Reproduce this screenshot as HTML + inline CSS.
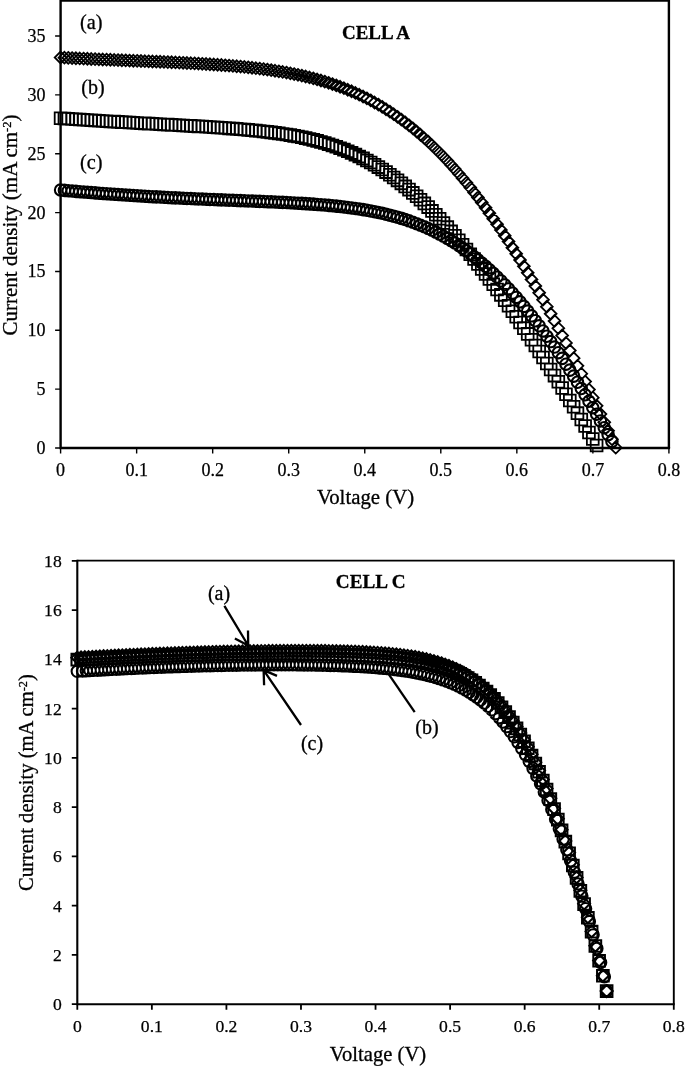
<!DOCTYPE html>
<html><head><meta charset="utf-8"><title>J-V curves</title>
<style>html,body{margin:0;padding:0;background:#fff}body{width:685px;height:1066px;overflow:hidden;font-family:"Liberation Serif",serif}svg{display:block;will-change:transform}.t,.t text{font-family:"Liberation Serif",serif}</style>
</head><body>
<svg width="685" height="1066" viewBox="0 0 685 1066">
<rect width="685" height="1066" fill="#fff"/>
<path fill="none" stroke="#000" stroke-width="1.8" stroke-linejoin="miter" d="M60.6 51.59l5.9 5.9l-5.9 5.9l-5.9 -5.9zM64.43 51.78l5.9 5.9l-5.9 5.9l-5.9 -5.9zM68.26 51.98l5.9 5.9l-5.9 5.9l-5.9 -5.9zM72.09 52.17l5.9 5.9l-5.9 5.9l-5.9 -5.9zM75.91 52.35l5.9 5.9l-5.9 5.9l-5.9 -5.9zM79.74 52.54l5.9 5.9l-5.9 5.9l-5.9 -5.9zM83.57 52.72l5.9 5.9l-5.9 5.9l-5.9 -5.9zM87.4 52.89l5.9 5.9l-5.9 5.9l-5.9 -5.9zM91.23 53.06l5.9 5.9l-5.9 5.9l-5.9 -5.9zM95.06 53.23l5.9 5.9l-5.9 5.9l-5.9 -5.9zM98.89 53.4l5.9 5.9l-5.9 5.9l-5.9 -5.9zM102.71 53.57l5.9 5.9l-5.9 5.9l-5.9 -5.9zM106.54 53.73l5.9 5.9l-5.9 5.9l-5.9 -5.9zM110.37 53.89l5.9 5.9l-5.9 5.9l-5.9 -5.9zM114.2 54.05l5.9 5.9l-5.9 5.9l-5.9 -5.9zM118.03 54.2l5.9 5.9l-5.9 5.9l-5.9 -5.9zM121.86 54.36l5.9 5.9l-5.9 5.9l-5.9 -5.9zM125.69 54.51l5.9 5.9l-5.9 5.9l-5.9 -5.9zM129.52 54.66l5.9 5.9l-5.9 5.9l-5.9 -5.9zM133.34 54.82l5.9 5.9l-5.9 5.9l-5.9 -5.9zM137.17 54.97l5.9 5.9l-5.9 5.9l-5.9 -5.9zM141 55.12l5.9 5.9l-5.9 5.9l-5.9 -5.9zM144.83 55.27l5.9 5.9l-5.9 5.9l-5.9 -5.9zM148.66 55.43l5.9 5.9l-5.9 5.9l-5.9 -5.9zM152.49 55.58l5.9 5.9l-5.9 5.9l-5.9 -5.9zM156.32 55.74l5.9 5.9l-5.9 5.9l-5.9 -5.9zM160.14 55.89l5.9 5.9l-5.9 5.9l-5.9 -5.9zM163.97 56.05l5.9 5.9l-5.9 5.9l-5.9 -5.9zM167.8 56.22l5.9 5.9l-5.9 5.9l-5.9 -5.9zM171.63 56.38l5.9 5.9l-5.9 5.9l-5.9 -5.9zM175.46 56.55l5.9 5.9l-5.9 5.9l-5.9 -5.9zM179.29 56.73l5.9 5.9l-5.9 5.9l-5.9 -5.9zM183.12 56.91l5.9 5.9l-5.9 5.9l-5.9 -5.9zM186.94 57.09l5.9 5.9l-5.9 5.9l-5.9 -5.9zM190.77 57.29l5.9 5.9l-5.9 5.9l-5.9 -5.9zM194.6 57.48l5.9 5.9l-5.9 5.9l-5.9 -5.9zM198.43 57.69l5.9 5.9l-5.9 5.9l-5.9 -5.9zM202.26 57.9l5.9 5.9l-5.9 5.9l-5.9 -5.9zM206.09 58.13l5.9 5.9l-5.9 5.9l-5.9 -5.9zM209.92 58.36l5.9 5.9l-5.9 5.9l-5.9 -5.9zM213.74 58.6l5.9 5.9l-5.9 5.9l-5.9 -5.9zM217.57 58.86l5.9 5.9l-5.9 5.9l-5.9 -5.9zM221.4 59.13l5.9 5.9l-5.9 5.9l-5.9 -5.9zM225.23 59.41l5.9 5.9l-5.9 5.9l-5.9 -5.9zM229.06 59.7l5.9 5.9l-5.9 5.9l-5.9 -5.9zM232.89 60.02l5.9 5.9l-5.9 5.9l-5.9 -5.9zM236.72 60.34l5.9 5.9l-5.9 5.9l-5.9 -5.9zM240.54 60.69l5.9 5.9l-5.9 5.9l-5.9 -5.9zM244.37 61.05l5.9 5.9l-5.9 5.9l-5.9 -5.9zM248.2 61.44l5.9 5.9l-5.9 5.9l-5.9 -5.9zM252.03 61.84l5.9 5.9l-5.9 5.9l-5.9 -5.9zM255.86 62.27l5.9 5.9l-5.9 5.9l-5.9 -5.9zM259.69 62.73l5.9 5.9l-5.9 5.9l-5.9 -5.9zM263.52 63.2l5.9 5.9l-5.9 5.9l-5.9 -5.9zM267.35 63.71l5.9 5.9l-5.9 5.9l-5.9 -5.9zM271.17 64.24l5.9 5.9l-5.9 5.9l-5.9 -5.9zM275 64.81l5.9 5.9l-5.9 5.9l-5.9 -5.9zM278.83 65.41l5.9 5.9l-5.9 5.9l-5.9 -5.9zM282.66 66.04l5.9 5.9l-5.9 5.9l-5.9 -5.9zM286.49 66.7l5.9 5.9l-5.9 5.9l-5.9 -5.9zM290.32 67.4l5.9 5.9l-5.9 5.9l-5.9 -5.9zM294.15 68.15l5.9 5.9l-5.9 5.9l-5.9 -5.9zM297.97 68.93l5.9 5.9l-5.9 5.9l-5.9 -5.9zM301.8 69.76l5.9 5.9l-5.9 5.9l-5.9 -5.9zM305.63 70.63l5.9 5.9l-5.9 5.9l-5.9 -5.9zM309.46 71.54l5.9 5.9l-5.9 5.9l-5.9 -5.9zM313.29 72.51l5.9 5.9l-5.9 5.9l-5.9 -5.9zM317.12 73.53l5.9 5.9l-5.9 5.9l-5.9 -5.9zM320.95 74.6l5.9 5.9l-5.9 5.9l-5.9 -5.9zM324.77 75.73l5.9 5.9l-5.9 5.9l-5.9 -5.9zM328.6 76.92l5.9 5.9l-5.9 5.9l-5.9 -5.9zM332.43 78.17l5.9 5.9l-5.9 5.9l-5.9 -5.9zM336.26 79.48l5.9 5.9l-5.9 5.9l-5.9 -5.9zM340.09 80.85l5.9 5.9l-5.9 5.9l-5.9 -5.9zM343.92 82.29l5.9 5.9l-5.9 5.9l-5.9 -5.9zM347.75 83.81l5.9 5.9l-5.9 5.9l-5.9 -5.9zM351.57 85.39l5.9 5.9l-5.9 5.9l-5.9 -5.9zM355.4 87.05l5.9 5.9l-5.9 5.9l-5.9 -5.9zM359.23 88.79l5.9 5.9l-5.9 5.9l-5.9 -5.9zM363.06 90.61l5.9 5.9l-5.9 5.9l-5.9 -5.9zM366.89 92.51l5.9 5.9l-5.9 5.9l-5.9 -5.9zM370.72 94.49l5.9 5.9l-5.9 5.9l-5.9 -5.9zM374.55 96.56l5.9 5.9l-5.9 5.9l-5.9 -5.9zM378.37 98.71l5.9 5.9l-5.9 5.9l-5.9 -5.9zM382.2 100.96l5.9 5.9l-5.9 5.9l-5.9 -5.9zM386.03 103.31l5.9 5.9l-5.9 5.9l-5.9 -5.9zM389.86 105.74l5.9 5.9l-5.9 5.9l-5.9 -5.9zM393.69 108.28l5.9 5.9l-5.9 5.9l-5.9 -5.9zM397.52 110.91l5.9 5.9l-5.9 5.9l-5.9 -5.9zM401.35 113.65l5.9 5.9l-5.9 5.9l-5.9 -5.9zM405.18 116.48l5.9 5.9l-5.9 5.9l-5.9 -5.9zM409 119.42l5.9 5.9l-5.9 5.9l-5.9 -5.9zM412.83 122.47l5.9 5.9l-5.9 5.9l-5.9 -5.9zM416.66 125.63l5.9 5.9l-5.9 5.9l-5.9 -5.9zM420.49 128.89l5.9 5.9l-5.9 5.9l-5.9 -5.9zM424.32 132.27l5.9 5.9l-5.9 5.9l-5.9 -5.9zM428.15 135.76l5.9 5.9l-5.9 5.9l-5.9 -5.9zM431.98 139.36l5.9 5.9l-5.9 5.9l-5.9 -5.9zM435.8 143.07l5.9 5.9l-5.9 5.9l-5.9 -5.9zM439.63 146.9l5.9 5.9l-5.9 5.9l-5.9 -5.9zM443.46 150.84l5.9 5.9l-5.9 5.9l-5.9 -5.9zM447.29 154.9l5.9 5.9l-5.9 5.9l-5.9 -5.9zM451.12 159.08l5.9 5.9l-5.9 5.9l-5.9 -5.9zM454.95 163.37l5.9 5.9l-5.9 5.9l-5.9 -5.9zM458.78 167.78l5.9 5.9l-5.9 5.9l-5.9 -5.9zM462.6 172.31l5.9 5.9l-5.9 5.9l-5.9 -5.9zM466.43 176.95l5.9 5.9l-5.9 5.9l-5.9 -5.9zM470.26 181.72l5.9 5.9l-5.9 5.9l-5.9 -5.9zM474.09 186.6l5.9 5.9l-5.9 5.9l-5.9 -5.9zM477.92 191.59l5.9 5.9l-5.9 5.9l-5.9 -5.9zM481.75 196.71l5.9 5.9l-5.9 5.9l-5.9 -5.9zM485.58 201.94l5.9 5.9l-5.9 5.9l-5.9 -5.9zM489.4 207.28l5.9 5.9l-5.9 5.9l-5.9 -5.9zM493.23 212.74l5.9 5.9l-5.9 5.9l-5.9 -5.9zM497.06 218.32l5.9 5.9l-5.9 5.9l-5.9 -5.9zM500.89 224l5.9 5.9l-5.9 5.9l-5.9 -5.9zM504.72 229.81l5.9 5.9l-5.9 5.9l-5.9 -5.9zM508.55 235.72l5.9 5.9l-5.9 5.9l-5.9 -5.9zM512.38 241.74l5.9 5.9l-5.9 5.9l-5.9 -5.9zM516.21 247.88l5.9 5.9l-5.9 5.9l-5.9 -5.9zM520.03 254.12l5.9 5.9l-5.9 5.9l-5.9 -5.9zM523.86 260.47l5.9 5.9l-5.9 5.9l-5.9 -5.9zM527.69 266.93l5.9 5.9l-5.9 5.9l-5.9 -5.9zM531.52 273.49l5.9 5.9l-5.9 5.9l-5.9 -5.9zM535.35 280.16l5.9 5.9l-5.9 5.9l-5.9 -5.9zM539.18 286.92l5.9 5.9l-5.9 5.9l-5.9 -5.9zM543.01 293.8l5.9 5.9l-5.9 5.9l-5.9 -5.9zM546.83 300.77l5.9 5.9l-5.9 5.9l-5.9 -5.9zM550.66 307.84l5.9 5.9l-5.9 5.9l-5.9 -5.9zM554.49 315l5.9 5.9l-5.9 5.9l-5.9 -5.9zM558.32 322.27l5.9 5.9l-5.9 5.9l-5.9 -5.9zM562.15 329.62l5.9 5.9l-5.9 5.9l-5.9 -5.9zM565.98 337.08l5.9 5.9l-5.9 5.9l-5.9 -5.9zM569.81 344.62l5.9 5.9l-5.9 5.9l-5.9 -5.9zM573.63 352.25l5.9 5.9l-5.9 5.9l-5.9 -5.9zM577.46 359.97l5.9 5.9l-5.9 5.9l-5.9 -5.9zM581.29 367.78l5.9 5.9l-5.9 5.9l-5.9 -5.9zM585.12 375.68l5.9 5.9l-5.9 5.9l-5.9 -5.9zM588.95 383.66l5.9 5.9l-5.9 5.9l-5.9 -5.9zM592.78 391.73l5.9 5.9l-5.9 5.9l-5.9 -5.9zM596.61 399.87l5.9 5.9l-5.9 5.9l-5.9 -5.9zM600.43 408.1l5.9 5.9l-5.9 5.9l-5.9 -5.9zM604.26 416.4l5.9 5.9l-5.9 5.9l-5.9 -5.9zM608.09 424.79l5.9 5.9l-5.9 5.9l-5.9 -5.9zM611.92 433.25l5.9 5.9l-5.9 5.9l-5.9 -5.9zM615.75 441.79l5.9 5.9l-5.9 5.9l-5.9 -5.9z"/>
<path fill="none" stroke="#000" stroke-width="1.8" stroke-linejoin="miter" d="M54.7 112.38h11.8v11.8h-11.8zM58.53 112.64h11.8v11.8h-11.8zM62.36 112.9h11.8v11.8h-11.8zM66.19 113.15h11.8v11.8h-11.8zM70.01 113.4h11.8v11.8h-11.8zM73.84 113.65h11.8v11.8h-11.8zM77.67 113.89h11.8v11.8h-11.8zM81.5 114.14h11.8v11.8h-11.8zM85.33 114.38h11.8v11.8h-11.8zM89.16 114.61h11.8v11.8h-11.8zM92.99 114.85h11.8v11.8h-11.8zM96.81 115.08h11.8v11.8h-11.8zM100.64 115.31h11.8v11.8h-11.8zM104.47 115.54h11.8v11.8h-11.8zM108.3 115.76h11.8v11.8h-11.8zM112.13 115.98h11.8v11.8h-11.8zM115.96 116.2h11.8v11.8h-11.8zM119.79 116.42h11.8v11.8h-11.8zM123.62 116.64h11.8v11.8h-11.8zM127.44 116.85h11.8v11.8h-11.8zM131.27 117.07h11.8v11.8h-11.8zM135.1 117.28h11.8v11.8h-11.8zM138.93 117.49h11.8v11.8h-11.8zM142.76 117.7h11.8v11.8h-11.8zM146.59 117.91h11.8v11.8h-11.8zM150.42 118.11h11.8v11.8h-11.8zM154.24 118.32h11.8v11.8h-11.8zM158.07 118.53h11.8v11.8h-11.8zM161.9 118.74h11.8v11.8h-11.8zM165.73 118.95h11.8v11.8h-11.8zM169.56 119.15h11.8v11.8h-11.8zM173.39 119.36h11.8v11.8h-11.8zM177.22 119.58h11.8v11.8h-11.8zM181.04 119.79h11.8v11.8h-11.8zM184.87 120.01h11.8v11.8h-11.8zM188.7 120.22h11.8v11.8h-11.8zM192.53 120.45h11.8v11.8h-11.8zM196.36 120.67h11.8v11.8h-11.8zM200.19 120.9h11.8v11.8h-11.8zM204.02 121.14h11.8v11.8h-11.8zM207.84 121.38h11.8v11.8h-11.8zM211.67 121.63h11.8v11.8h-11.8zM215.5 121.89h11.8v11.8h-11.8zM219.33 122.15h11.8v11.8h-11.8zM223.16 122.43h11.8v11.8h-11.8zM226.99 122.72h11.8v11.8h-11.8zM230.82 123.01h11.8v11.8h-11.8zM234.64 123.32h11.8v11.8h-11.8zM238.47 123.65h11.8v11.8h-11.8zM242.3 123.99h11.8v11.8h-11.8zM246.13 124.35h11.8v11.8h-11.8zM249.96 124.72h11.8v11.8h-11.8zM253.79 125.12h11.8v11.8h-11.8zM257.62 125.54h11.8v11.8h-11.8zM261.45 125.98h11.8v11.8h-11.8zM265.27 126.45h11.8v11.8h-11.8zM269.1 126.95h11.8v11.8h-11.8zM272.93 127.47h11.8v11.8h-11.8zM276.76 128.03h11.8v11.8h-11.8zM280.59 128.63h11.8v11.8h-11.8zM284.42 129.26h11.8v11.8h-11.8zM288.25 129.94h11.8v11.8h-11.8zM292.07 130.65h11.8v11.8h-11.8zM295.9 131.42h11.8v11.8h-11.8zM299.73 132.23h11.8v11.8h-11.8zM303.56 133.1h11.8v11.8h-11.8zM307.39 134.02h11.8v11.8h-11.8zM311.22 135h11.8v11.8h-11.8zM315.05 136.04h11.8v11.8h-11.8zM318.87 137.14h11.8v11.8h-11.8zM322.7 138.32h11.8v11.8h-11.8zM326.53 139.57h11.8v11.8h-11.8zM330.36 140.89h11.8v11.8h-11.8zM334.19 142.29h11.8v11.8h-11.8zM338.02 143.77h11.8v11.8h-11.8zM341.85 145.33h11.8v11.8h-11.8zM345.67 146.99h11.8v11.8h-11.8zM349.5 148.73h11.8v11.8h-11.8zM353.33 150.57h11.8v11.8h-11.8zM357.16 152.5h11.8v11.8h-11.8zM360.99 154.53h11.8v11.8h-11.8zM364.82 156.65h11.8v11.8h-11.8zM368.65 158.88h11.8v11.8h-11.8zM372.47 161.21h11.8v11.8h-11.8zM376.3 163.65h11.8v11.8h-11.8zM380.13 166.19h11.8v11.8h-11.8zM383.96 168.84h11.8v11.8h-11.8zM387.79 171.6h11.8v11.8h-11.8zM391.62 174.46h11.8v11.8h-11.8zM395.45 177.43h11.8v11.8h-11.8zM399.28 180.51h11.8v11.8h-11.8zM403.1 183.69h11.8v11.8h-11.8zM406.93 186.98h11.8v11.8h-11.8zM410.76 190.38h11.8v11.8h-11.8zM414.59 193.88h11.8v11.8h-11.8zM418.42 197.49h11.8v11.8h-11.8zM422.25 201.19h11.8v11.8h-11.8zM426.08 205h11.8v11.8h-11.8zM429.9 208.91h11.8v11.8h-11.8zM433.73 212.92h11.8v11.8h-11.8zM437.56 217.03h11.8v11.8h-11.8zM441.39 221.23h11.8v11.8h-11.8zM445.22 225.52h11.8v11.8h-11.8zM449.05 229.91h11.8v11.8h-11.8zM452.88 234.38h11.8v11.8h-11.8zM456.7 238.94h11.8v11.8h-11.8zM460.53 243.59h11.8v11.8h-11.8zM464.36 248.32h11.8v11.8h-11.8zM468.19 253.13h11.8v11.8h-11.8zM472.02 258.02h11.8v11.8h-11.8zM475.85 262.99h11.8v11.8h-11.8zM479.68 268.04h11.8v11.8h-11.8zM483.5 273.15h11.8v11.8h-11.8zM487.33 278.34h11.8v11.8h-11.8zM491.16 283.6h11.8v11.8h-11.8zM494.99 288.93h11.8v11.8h-11.8zM498.82 294.32h11.8v11.8h-11.8zM502.65 299.78h11.8v11.8h-11.8zM506.48 305.3h11.8v11.8h-11.8zM510.31 310.89h11.8v11.8h-11.8zM514.13 316.53h11.8v11.8h-11.8zM517.96 322.23h11.8v11.8h-11.8zM521.79 327.98h11.8v11.8h-11.8zM525.62 333.79h11.8v11.8h-11.8zM529.45 339.65h11.8v11.8h-11.8zM533.28 345.56h11.8v11.8h-11.8zM537.11 351.53h11.8v11.8h-11.8zM540.93 357.54h11.8v11.8h-11.8zM544.76 363.6h11.8v11.8h-11.8zM548.59 369.71h11.8v11.8h-11.8zM552.42 375.86h11.8v11.8h-11.8zM556.25 382.05h11.8v11.8h-11.8zM560.08 388.29h11.8v11.8h-11.8zM563.91 394.57h11.8v11.8h-11.8zM567.73 400.89h11.8v11.8h-11.8zM571.56 407.24h11.8v11.8h-11.8zM575.39 413.64h11.8v11.8h-11.8zM579.22 420.07h11.8v11.8h-11.8zM583.05 426.54h11.8v11.8h-11.8zM586.88 433.04h11.8v11.8h-11.8zM590.71 439.58h11.8v11.8h-11.8z"/>
<path fill="none" stroke="#000" stroke-width="2.1" stroke-linejoin="miter" d="M54.88 190.05a5.72 5.72 0 1 0 11.44 0a5.72 5.72 0 1 0 -11.44 0zM58.71 190.39a5.72 5.72 0 1 0 11.44 0a5.72 5.72 0 1 0 -11.44 0zM62.54 190.72a5.72 5.72 0 1 0 11.44 0a5.72 5.72 0 1 0 -11.44 0zM66.37 191.05a5.72 5.72 0 1 0 11.44 0a5.72 5.72 0 1 0 -11.44 0zM70.19 191.37a5.72 5.72 0 1 0 11.44 0a5.72 5.72 0 1 0 -11.44 0zM74.02 191.68a5.72 5.72 0 1 0 11.44 0a5.72 5.72 0 1 0 -11.44 0zM77.85 191.99a5.72 5.72 0 1 0 11.44 0a5.72 5.72 0 1 0 -11.44 0zM81.68 192.3a5.72 5.72 0 1 0 11.44 0a5.72 5.72 0 1 0 -11.44 0zM85.51 192.6a5.72 5.72 0 1 0 11.44 0a5.72 5.72 0 1 0 -11.44 0zM89.34 192.89a5.72 5.72 0 1 0 11.44 0a5.72 5.72 0 1 0 -11.44 0zM93.17 193.18a5.72 5.72 0 1 0 11.44 0a5.72 5.72 0 1 0 -11.44 0zM96.99 193.46a5.72 5.72 0 1 0 11.44 0a5.72 5.72 0 1 0 -11.44 0zM100.82 193.74a5.72 5.72 0 1 0 11.44 0a5.72 5.72 0 1 0 -11.44 0zM104.65 194.01a5.72 5.72 0 1 0 11.44 0a5.72 5.72 0 1 0 -11.44 0zM108.48 194.28a5.72 5.72 0 1 0 11.44 0a5.72 5.72 0 1 0 -11.44 0zM112.31 194.54a5.72 5.72 0 1 0 11.44 0a5.72 5.72 0 1 0 -11.44 0zM116.14 194.8a5.72 5.72 0 1 0 11.44 0a5.72 5.72 0 1 0 -11.44 0zM119.97 195.05a5.72 5.72 0 1 0 11.44 0a5.72 5.72 0 1 0 -11.44 0zM123.8 195.29a5.72 5.72 0 1 0 11.44 0a5.72 5.72 0 1 0 -11.44 0zM127.62 195.53a5.72 5.72 0 1 0 11.44 0a5.72 5.72 0 1 0 -11.44 0zM131.45 195.77a5.72 5.72 0 1 0 11.44 0a5.72 5.72 0 1 0 -11.44 0zM135.28 196a5.72 5.72 0 1 0 11.44 0a5.72 5.72 0 1 0 -11.44 0zM139.11 196.23a5.72 5.72 0 1 0 11.44 0a5.72 5.72 0 1 0 -11.44 0zM142.94 196.45a5.72 5.72 0 1 0 11.44 0a5.72 5.72 0 1 0 -11.44 0zM146.77 196.66a5.72 5.72 0 1 0 11.44 0a5.72 5.72 0 1 0 -11.44 0zM150.6 196.87a5.72 5.72 0 1 0 11.44 0a5.72 5.72 0 1 0 -11.44 0zM154.42 197.08a5.72 5.72 0 1 0 11.44 0a5.72 5.72 0 1 0 -11.44 0zM158.25 197.28a5.72 5.72 0 1 0 11.44 0a5.72 5.72 0 1 0 -11.44 0zM162.08 197.48a5.72 5.72 0 1 0 11.44 0a5.72 5.72 0 1 0 -11.44 0zM165.91 197.67a5.72 5.72 0 1 0 11.44 0a5.72 5.72 0 1 0 -11.44 0zM169.74 197.86a5.72 5.72 0 1 0 11.44 0a5.72 5.72 0 1 0 -11.44 0zM173.57 198.05a5.72 5.72 0 1 0 11.44 0a5.72 5.72 0 1 0 -11.44 0zM177.4 198.23a5.72 5.72 0 1 0 11.44 0a5.72 5.72 0 1 0 -11.44 0zM181.22 198.41a5.72 5.72 0 1 0 11.44 0a5.72 5.72 0 1 0 -11.44 0zM185.05 198.58a5.72 5.72 0 1 0 11.44 0a5.72 5.72 0 1 0 -11.44 0zM188.88 198.75a5.72 5.72 0 1 0 11.44 0a5.72 5.72 0 1 0 -11.44 0zM192.71 198.92a5.72 5.72 0 1 0 11.44 0a5.72 5.72 0 1 0 -11.44 0zM196.54 199.08a5.72 5.72 0 1 0 11.44 0a5.72 5.72 0 1 0 -11.44 0zM200.37 199.24a5.72 5.72 0 1 0 11.44 0a5.72 5.72 0 1 0 -11.44 0zM204.2 199.4a5.72 5.72 0 1 0 11.44 0a5.72 5.72 0 1 0 -11.44 0zM208.02 199.56a5.72 5.72 0 1 0 11.44 0a5.72 5.72 0 1 0 -11.44 0zM211.85 199.71a5.72 5.72 0 1 0 11.44 0a5.72 5.72 0 1 0 -11.44 0zM215.68 199.86a5.72 5.72 0 1 0 11.44 0a5.72 5.72 0 1 0 -11.44 0zM219.51 200.01a5.72 5.72 0 1 0 11.44 0a5.72 5.72 0 1 0 -11.44 0zM223.34 200.16a5.72 5.72 0 1 0 11.44 0a5.72 5.72 0 1 0 -11.44 0zM227.17 200.31a5.72 5.72 0 1 0 11.44 0a5.72 5.72 0 1 0 -11.44 0zM231 200.46a5.72 5.72 0 1 0 11.44 0a5.72 5.72 0 1 0 -11.44 0zM234.82 200.61a5.72 5.72 0 1 0 11.44 0a5.72 5.72 0 1 0 -11.44 0zM238.65 200.76a5.72 5.72 0 1 0 11.44 0a5.72 5.72 0 1 0 -11.44 0zM242.48 200.9a5.72 5.72 0 1 0 11.44 0a5.72 5.72 0 1 0 -11.44 0zM246.31 201.05a5.72 5.72 0 1 0 11.44 0a5.72 5.72 0 1 0 -11.44 0zM250.14 201.2a5.72 5.72 0 1 0 11.44 0a5.72 5.72 0 1 0 -11.44 0zM253.97 201.36a5.72 5.72 0 1 0 11.44 0a5.72 5.72 0 1 0 -11.44 0zM257.8 201.51a5.72 5.72 0 1 0 11.44 0a5.72 5.72 0 1 0 -11.44 0zM261.63 201.67a5.72 5.72 0 1 0 11.44 0a5.72 5.72 0 1 0 -11.44 0zM265.45 201.84a5.72 5.72 0 1 0 11.44 0a5.72 5.72 0 1 0 -11.44 0zM269.28 202.01a5.72 5.72 0 1 0 11.44 0a5.72 5.72 0 1 0 -11.44 0zM273.11 202.18a5.72 5.72 0 1 0 11.44 0a5.72 5.72 0 1 0 -11.44 0zM276.94 202.36a5.72 5.72 0 1 0 11.44 0a5.72 5.72 0 1 0 -11.44 0zM280.77 202.55a5.72 5.72 0 1 0 11.44 0a5.72 5.72 0 1 0 -11.44 0zM284.6 202.74a5.72 5.72 0 1 0 11.44 0a5.72 5.72 0 1 0 -11.44 0zM288.43 202.94a5.72 5.72 0 1 0 11.44 0a5.72 5.72 0 1 0 -11.44 0zM292.25 203.16a5.72 5.72 0 1 0 11.44 0a5.72 5.72 0 1 0 -11.44 0zM296.08 203.38a5.72 5.72 0 1 0 11.44 0a5.72 5.72 0 1 0 -11.44 0zM299.91 203.62a5.72 5.72 0 1 0 11.44 0a5.72 5.72 0 1 0 -11.44 0zM303.74 203.87a5.72 5.72 0 1 0 11.44 0a5.72 5.72 0 1 0 -11.44 0zM307.57 204.14a5.72 5.72 0 1 0 11.44 0a5.72 5.72 0 1 0 -11.44 0zM311.4 204.42a5.72 5.72 0 1 0 11.44 0a5.72 5.72 0 1 0 -11.44 0zM315.23 204.71a5.72 5.72 0 1 0 11.44 0a5.72 5.72 0 1 0 -11.44 0zM319.05 205.03a5.72 5.72 0 1 0 11.44 0a5.72 5.72 0 1 0 -11.44 0zM322.88 205.37a5.72 5.72 0 1 0 11.44 0a5.72 5.72 0 1 0 -11.44 0zM326.71 205.73a5.72 5.72 0 1 0 11.44 0a5.72 5.72 0 1 0 -11.44 0zM330.54 206.11a5.72 5.72 0 1 0 11.44 0a5.72 5.72 0 1 0 -11.44 0zM334.37 206.52a5.72 5.72 0 1 0 11.44 0a5.72 5.72 0 1 0 -11.44 0zM338.2 206.95a5.72 5.72 0 1 0 11.44 0a5.72 5.72 0 1 0 -11.44 0zM342.03 207.42a5.72 5.72 0 1 0 11.44 0a5.72 5.72 0 1 0 -11.44 0zM345.85 207.92a5.72 5.72 0 1 0 11.44 0a5.72 5.72 0 1 0 -11.44 0zM349.68 208.45a5.72 5.72 0 1 0 11.44 0a5.72 5.72 0 1 0 -11.44 0zM353.51 209.01a5.72 5.72 0 1 0 11.44 0a5.72 5.72 0 1 0 -11.44 0zM357.34 209.62a5.72 5.72 0 1 0 11.44 0a5.72 5.72 0 1 0 -11.44 0zM361.17 210.26a5.72 5.72 0 1 0 11.44 0a5.72 5.72 0 1 0 -11.44 0zM365 210.95a5.72 5.72 0 1 0 11.44 0a5.72 5.72 0 1 0 -11.44 0zM368.83 211.69a5.72 5.72 0 1 0 11.44 0a5.72 5.72 0 1 0 -11.44 0zM372.65 212.47a5.72 5.72 0 1 0 11.44 0a5.72 5.72 0 1 0 -11.44 0zM376.48 213.31a5.72 5.72 0 1 0 11.44 0a5.72 5.72 0 1 0 -11.44 0zM380.31 214.2a5.72 5.72 0 1 0 11.44 0a5.72 5.72 0 1 0 -11.44 0zM384.14 215.15a5.72 5.72 0 1 0 11.44 0a5.72 5.72 0 1 0 -11.44 0zM387.97 216.16a5.72 5.72 0 1 0 11.44 0a5.72 5.72 0 1 0 -11.44 0zM391.8 217.23a5.72 5.72 0 1 0 11.44 0a5.72 5.72 0 1 0 -11.44 0zM395.63 218.37a5.72 5.72 0 1 0 11.44 0a5.72 5.72 0 1 0 -11.44 0zM399.46 219.57a5.72 5.72 0 1 0 11.44 0a5.72 5.72 0 1 0 -11.44 0zM403.28 220.85a5.72 5.72 0 1 0 11.44 0a5.72 5.72 0 1 0 -11.44 0zM407.11 222.21a5.72 5.72 0 1 0 11.44 0a5.72 5.72 0 1 0 -11.44 0zM410.94 223.65a5.72 5.72 0 1 0 11.44 0a5.72 5.72 0 1 0 -11.44 0zM414.77 225.17a5.72 5.72 0 1 0 11.44 0a5.72 5.72 0 1 0 -11.44 0zM418.6 226.77a5.72 5.72 0 1 0 11.44 0a5.72 5.72 0 1 0 -11.44 0zM422.43 228.46a5.72 5.72 0 1 0 11.44 0a5.72 5.72 0 1 0 -11.44 0zM426.26 230.25a5.72 5.72 0 1 0 11.44 0a5.72 5.72 0 1 0 -11.44 0zM430.08 232.13a5.72 5.72 0 1 0 11.44 0a5.72 5.72 0 1 0 -11.44 0zM433.91 234.11a5.72 5.72 0 1 0 11.44 0a5.72 5.72 0 1 0 -11.44 0zM437.74 236.18a5.72 5.72 0 1 0 11.44 0a5.72 5.72 0 1 0 -11.44 0zM441.57 238.36a5.72 5.72 0 1 0 11.44 0a5.72 5.72 0 1 0 -11.44 0zM445.4 240.65a5.72 5.72 0 1 0 11.44 0a5.72 5.72 0 1 0 -11.44 0zM449.23 243.04a5.72 5.72 0 1 0 11.44 0a5.72 5.72 0 1 0 -11.44 0zM453.06 245.55a5.72 5.72 0 1 0 11.44 0a5.72 5.72 0 1 0 -11.44 0zM456.88 248.17a5.72 5.72 0 1 0 11.44 0a5.72 5.72 0 1 0 -11.44 0zM460.71 250.9a5.72 5.72 0 1 0 11.44 0a5.72 5.72 0 1 0 -11.44 0zM464.54 253.75a5.72 5.72 0 1 0 11.44 0a5.72 5.72 0 1 0 -11.44 0zM468.37 256.71a5.72 5.72 0 1 0 11.44 0a5.72 5.72 0 1 0 -11.44 0zM472.2 259.8a5.72 5.72 0 1 0 11.44 0a5.72 5.72 0 1 0 -11.44 0zM476.03 263a5.72 5.72 0 1 0 11.44 0a5.72 5.72 0 1 0 -11.44 0zM479.86 266.33a5.72 5.72 0 1 0 11.44 0a5.72 5.72 0 1 0 -11.44 0zM483.68 269.78a5.72 5.72 0 1 0 11.44 0a5.72 5.72 0 1 0 -11.44 0zM487.51 273.35a5.72 5.72 0 1 0 11.44 0a5.72 5.72 0 1 0 -11.44 0zM491.34 277.05a5.72 5.72 0 1 0 11.44 0a5.72 5.72 0 1 0 -11.44 0zM495.17 280.87a5.72 5.72 0 1 0 11.44 0a5.72 5.72 0 1 0 -11.44 0zM499 284.81a5.72 5.72 0 1 0 11.44 0a5.72 5.72 0 1 0 -11.44 0zM502.83 288.88a5.72 5.72 0 1 0 11.44 0a5.72 5.72 0 1 0 -11.44 0zM506.66 293.07a5.72 5.72 0 1 0 11.44 0a5.72 5.72 0 1 0 -11.44 0zM510.49 297.38a5.72 5.72 0 1 0 11.44 0a5.72 5.72 0 1 0 -11.44 0zM514.31 301.82a5.72 5.72 0 1 0 11.44 0a5.72 5.72 0 1 0 -11.44 0zM518.14 306.37a5.72 5.72 0 1 0 11.44 0a5.72 5.72 0 1 0 -11.44 0zM521.97 311.05a5.72 5.72 0 1 0 11.44 0a5.72 5.72 0 1 0 -11.44 0zM525.8 315.85a5.72 5.72 0 1 0 11.44 0a5.72 5.72 0 1 0 -11.44 0zM529.63 320.77a5.72 5.72 0 1 0 11.44 0a5.72 5.72 0 1 0 -11.44 0zM533.46 325.8a5.72 5.72 0 1 0 11.44 0a5.72 5.72 0 1 0 -11.44 0zM537.29 330.95a5.72 5.72 0 1 0 11.44 0a5.72 5.72 0 1 0 -11.44 0zM541.11 336.21a5.72 5.72 0 1 0 11.44 0a5.72 5.72 0 1 0 -11.44 0zM544.94 341.59a5.72 5.72 0 1 0 11.44 0a5.72 5.72 0 1 0 -11.44 0zM548.77 347.08a5.72 5.72 0 1 0 11.44 0a5.72 5.72 0 1 0 -11.44 0zM552.6 352.68a5.72 5.72 0 1 0 11.44 0a5.72 5.72 0 1 0 -11.44 0zM556.43 358.38a5.72 5.72 0 1 0 11.44 0a5.72 5.72 0 1 0 -11.44 0zM560.26 364.19a5.72 5.72 0 1 0 11.44 0a5.72 5.72 0 1 0 -11.44 0zM564.09 370.11a5.72 5.72 0 1 0 11.44 0a5.72 5.72 0 1 0 -11.44 0zM567.91 376.13a5.72 5.72 0 1 0 11.44 0a5.72 5.72 0 1 0 -11.44 0zM571.74 382.25a5.72 5.72 0 1 0 11.44 0a5.72 5.72 0 1 0 -11.44 0zM575.57 388.47a5.72 5.72 0 1 0 11.44 0a5.72 5.72 0 1 0 -11.44 0zM579.4 394.78a5.72 5.72 0 1 0 11.44 0a5.72 5.72 0 1 0 -11.44 0zM583.23 401.2a5.72 5.72 0 1 0 11.44 0a5.72 5.72 0 1 0 -11.44 0zM587.06 407.7a5.72 5.72 0 1 0 11.44 0a5.72 5.72 0 1 0 -11.44 0zM590.89 414.3a5.72 5.72 0 1 0 11.44 0a5.72 5.72 0 1 0 -11.44 0zM594.71 420.98a5.72 5.72 0 1 0 11.44 0a5.72 5.72 0 1 0 -11.44 0zM598.54 427.75a5.72 5.72 0 1 0 11.44 0a5.72 5.72 0 1 0 -11.44 0zM602.37 434.61a5.72 5.72 0 1 0 11.44 0a5.72 5.72 0 1 0 -11.44 0zM606.2 441.55a5.72 5.72 0 1 0 11.44 0a5.72 5.72 0 1 0 -11.44 0z"/>
<path d="M60.60 0.55 H668.90 V448.00" fill="none" stroke="#000" stroke-width="2.4"/><path d="M60.60 -0.65 V448.00 H670.10" fill="none" stroke="#000" stroke-width="2.4" stroke-linejoin="miter"/><path d="M60.60 448.00 v5.50 M136.64 448.00 v5.50 M212.68 448.00 v5.50 M288.72 448.00 v5.50 M364.76 448.00 v5.50 M440.80 448.00 v5.50 M516.84 448.00 v5.50 M592.88 448.00 v5.50 M668.92 448.00 v5.50 M60.60 448.00 h-5.50 M60.60 389.15 h-5.50 M60.60 330.30 h-5.50 M60.60 271.45 h-5.50 M60.60 212.60 h-5.50 M60.60 153.75 h-5.50 M60.60 94.90 h-5.50 M60.60 36.05 h-5.50" stroke="#000" stroke-width="1.4" fill="none"/><g class="t" font-size="18" fill="#000" stroke="#000" stroke-width="0.25"><text x="60.60" y="476.40" text-anchor="middle">0</text><text x="136.64" y="476.40" text-anchor="middle">0.1</text><text x="212.68" y="476.40" text-anchor="middle">0.2</text><text x="288.72" y="476.40" text-anchor="middle">0.3</text><text x="364.76" y="476.40" text-anchor="middle">0.4</text><text x="440.80" y="476.40" text-anchor="middle">0.5</text><text x="516.84" y="476.40" text-anchor="middle">0.6</text><text x="592.88" y="476.40" text-anchor="middle">0.7</text><text x="668.92" y="476.40" text-anchor="middle">0.8</text><text x="45.50" y="453.94" text-anchor="end">0</text><text x="45.50" y="395.09" text-anchor="end">5</text><text x="45.50" y="336.24" text-anchor="end">10</text><text x="45.50" y="277.39" text-anchor="end">15</text><text x="45.50" y="218.54" text-anchor="end">20</text><text x="45.50" y="159.69" text-anchor="end">25</text><text x="45.50" y="100.84" text-anchor="end">30</text><text x="45.50" y="41.99" text-anchor="end">35</text></g>
<path fill="none" stroke="#000" stroke-width="2.05" stroke-linejoin="miter" d="M77.3 651.75l5.95 5.95l-5.95 5.95l-5.95 -5.95zM81.05 651.53l5.95 5.95l-5.95 5.95l-5.95 -5.95zM84.81 651.32l5.95 5.95l-5.95 5.95l-5.95 -5.95zM88.56 651.11l5.95 5.95l-5.95 5.95l-5.95 -5.95zM92.32 650.9l5.95 5.95l-5.95 5.95l-5.95 -5.95zM96.07 650.7l5.95 5.95l-5.95 5.95l-5.95 -5.95zM99.82 650.5l5.95 5.95l-5.95 5.95l-5.95 -5.95zM103.58 650.3l5.95 5.95l-5.95 5.95l-5.95 -5.95zM107.33 650.11l5.95 5.95l-5.95 5.95l-5.95 -5.95zM111.09 649.92l5.95 5.95l-5.95 5.95l-5.95 -5.95zM114.84 649.74l5.95 5.95l-5.95 5.95l-5.95 -5.95zM118.6 649.55l5.95 5.95l-5.95 5.95l-5.95 -5.95zM122.35 649.37l5.95 5.95l-5.95 5.95l-5.95 -5.95zM126.1 649.2l5.95 5.95l-5.95 5.95l-5.95 -5.95zM129.86 649.03l5.95 5.95l-5.95 5.95l-5.95 -5.95zM133.61 648.86l5.95 5.95l-5.95 5.95l-5.95 -5.95zM137.37 648.69l5.95 5.95l-5.95 5.95l-5.95 -5.95zM141.12 648.53l5.95 5.95l-5.95 5.95l-5.95 -5.95zM144.87 648.37l5.95 5.95l-5.95 5.95l-5.95 -5.95zM148.63 648.21l5.95 5.95l-5.95 5.95l-5.95 -5.95zM152.38 648.06l5.95 5.95l-5.95 5.95l-5.95 -5.95zM156.14 647.91l5.95 5.95l-5.95 5.95l-5.95 -5.95zM159.89 647.77l5.95 5.95l-5.95 5.95l-5.95 -5.95zM163.64 647.63l5.95 5.95l-5.95 5.95l-5.95 -5.95zM167.4 647.49l5.95 5.95l-5.95 5.95l-5.95 -5.95zM171.15 647.35l5.95 5.95l-5.95 5.95l-5.95 -5.95zM174.91 647.22l5.95 5.95l-5.95 5.95l-5.95 -5.95zM178.66 647.09l5.95 5.95l-5.95 5.95l-5.95 -5.95zM182.41 646.97l5.95 5.95l-5.95 5.95l-5.95 -5.95zM186.17 646.84l5.95 5.95l-5.95 5.95l-5.95 -5.95zM189.92 646.73l5.95 5.95l-5.95 5.95l-5.95 -5.95zM193.68 646.61l5.95 5.95l-5.95 5.95l-5.95 -5.95zM197.43 646.5l5.95 5.95l-5.95 5.95l-5.95 -5.95zM201.19 646.39l5.95 5.95l-5.95 5.95l-5.95 -5.95zM204.94 646.29l5.95 5.95l-5.95 5.95l-5.95 -5.95zM208.69 646.19l5.95 5.95l-5.95 5.95l-5.95 -5.95zM212.45 646.09l5.95 5.95l-5.95 5.95l-5.95 -5.95zM216.2 645.99l5.95 5.95l-5.95 5.95l-5.95 -5.95zM219.96 645.9l5.95 5.95l-5.95 5.95l-5.95 -5.95zM223.71 645.82l5.95 5.95l-5.95 5.95l-5.95 -5.95zM227.46 645.73l5.95 5.95l-5.95 5.95l-5.95 -5.95zM231.22 645.65l5.95 5.95l-5.95 5.95l-5.95 -5.95zM234.97 645.58l5.95 5.95l-5.95 5.95l-5.95 -5.95zM238.73 645.51l5.95 5.95l-5.95 5.95l-5.95 -5.95zM242.48 645.44l5.95 5.95l-5.95 5.95l-5.95 -5.95zM246.23 645.37l5.95 5.95l-5.95 5.95l-5.95 -5.95zM249.99 645.31l5.95 5.95l-5.95 5.95l-5.95 -5.95zM253.74 645.25l5.95 5.95l-5.95 5.95l-5.95 -5.95zM257.5 645.2l5.95 5.95l-5.95 5.95l-5.95 -5.95zM261.25 645.15l5.95 5.95l-5.95 5.95l-5.95 -5.95zM265 645.11l5.95 5.95l-5.95 5.95l-5.95 -5.95zM268.76 645.07l5.95 5.95l-5.95 5.95l-5.95 -5.95zM272.51 645.03l5.95 5.95l-5.95 5.95l-5.95 -5.95zM276.27 645l5.95 5.95l-5.95 5.95l-5.95 -5.95zM280.02 644.97l5.95 5.95l-5.95 5.95l-5.95 -5.95zM283.78 644.95l5.95 5.95l-5.95 5.95l-5.95 -5.95zM287.53 644.93l5.95 5.95l-5.95 5.95l-5.95 -5.95zM291.28 644.92l5.95 5.95l-5.95 5.95l-5.95 -5.95zM295.04 644.91l5.95 5.95l-5.95 5.95l-5.95 -5.95zM298.79 644.91l5.95 5.95l-5.95 5.95l-5.95 -5.95zM302.55 644.91l5.95 5.95l-5.95 5.95l-5.95 -5.95zM306.3 644.92l5.95 5.95l-5.95 5.95l-5.95 -5.95zM310.05 644.94l5.95 5.95l-5.95 5.95l-5.95 -5.95zM313.81 644.96l5.95 5.95l-5.95 5.95l-5.95 -5.95zM317.56 644.99l5.95 5.95l-5.95 5.95l-5.95 -5.95zM321.32 645.02l5.95 5.95l-5.95 5.95l-5.95 -5.95zM325.07 645.07l5.95 5.95l-5.95 5.95l-5.95 -5.95zM328.82 645.12l5.95 5.95l-5.95 5.95l-5.95 -5.95zM332.58 645.18l5.95 5.95l-5.95 5.95l-5.95 -5.95zM336.33 645.25l5.95 5.95l-5.95 5.95l-5.95 -5.95zM340.09 645.33l5.95 5.95l-5.95 5.95l-5.95 -5.95zM343.84 645.42l5.95 5.95l-5.95 5.95l-5.95 -5.95zM347.59 645.52l5.95 5.95l-5.95 5.95l-5.95 -5.95zM351.35 645.64l5.95 5.95l-5.95 5.95l-5.95 -5.95zM355.1 645.77l5.95 5.95l-5.95 5.95l-5.95 -5.95zM358.86 645.91l5.95 5.95l-5.95 5.95l-5.95 -5.95zM362.61 646.07l5.95 5.95l-5.95 5.95l-5.95 -5.95zM366.37 646.24l5.95 5.95l-5.95 5.95l-5.95 -5.95zM370.12 646.44l5.95 5.95l-5.95 5.95l-5.95 -5.95zM373.87 646.65l5.95 5.95l-5.95 5.95l-5.95 -5.95zM377.63 646.89l5.95 5.95l-5.95 5.95l-5.95 -5.95zM381.38 647.15l5.95 5.95l-5.95 5.95l-5.95 -5.95zM385.14 647.43l5.95 5.95l-5.95 5.95l-5.95 -5.95zM388.89 647.75l5.95 5.95l-5.95 5.95l-5.95 -5.95zM392.64 648.1l5.95 5.95l-5.95 5.95l-5.95 -5.95zM396.4 648.48l5.95 5.95l-5.95 5.95l-5.95 -5.95zM400.15 648.9l5.95 5.95l-5.95 5.95l-5.95 -5.95zM403.91 649.36l5.95 5.95l-5.95 5.95l-5.95 -5.95zM407.66 649.86l5.95 5.95l-5.95 5.95l-5.95 -5.95zM411.41 650.42l5.95 5.95l-5.95 5.95l-5.95 -5.95zM415.17 651.03l5.95 5.95l-5.95 5.95l-5.95 -5.95zM418.92 651.7l5.95 5.95l-5.95 5.95l-5.95 -5.95zM422.68 652.44l5.95 5.95l-5.95 5.95l-5.95 -5.95zM426.43 653.25l5.95 5.95l-5.95 5.95l-5.95 -5.95zM430.19 654.13l5.95 5.95l-5.95 5.95l-5.95 -5.95zM433.94 655.1l5.95 5.95l-5.95 5.95l-5.95 -5.95zM437.69 656.17l5.95 5.95l-5.95 5.95l-5.95 -5.95zM441.45 657.34l5.95 5.95l-5.95 5.95l-5.95 -5.95zM445.2 658.62l5.95 5.95l-5.95 5.95l-5.95 -5.95zM448.96 660.02l5.95 5.95l-5.95 5.95l-5.95 -5.95zM452.71 661.55l5.95 5.95l-5.95 5.95l-5.95 -5.95zM456.46 663.23l5.95 5.95l-5.95 5.95l-5.95 -5.95zM460.22 665.06l5.95 5.95l-5.95 5.95l-5.95 -5.95zM463.97 667.06l5.95 5.95l-5.95 5.95l-5.95 -5.95zM467.73 669.24l5.95 5.95l-5.95 5.95l-5.95 -5.95zM471.48 671.61l5.95 5.95l-5.95 5.95l-5.95 -5.95zM475.23 674.2l5.95 5.95l-5.95 5.95l-5.95 -5.95zM478.99 677.01l5.95 5.95l-5.95 5.95l-5.95 -5.95zM482.74 680.06l5.95 5.95l-5.95 5.95l-5.95 -5.95zM486.5 683.36l5.95 5.95l-5.95 5.95l-5.95 -5.95zM490.25 686.94l5.95 5.95l-5.95 5.95l-5.95 -5.95zM494 690.8l5.95 5.95l-5.95 5.95l-5.95 -5.95zM497.76 694.96l5.95 5.95l-5.95 5.95l-5.95 -5.95zM501.51 699.45l5.95 5.95l-5.95 5.95l-5.95 -5.95zM505.27 704.26l5.95 5.95l-5.95 5.95l-5.95 -5.95zM509.02 709.43l5.95 5.95l-5.95 5.95l-5.95 -5.95zM512.78 714.95l5.95 5.95l-5.95 5.95l-5.95 -5.95zM516.53 720.85l5.95 5.95l-5.95 5.95l-5.95 -5.95zM520.28 727.14l5.95 5.95l-5.95 5.95l-5.95 -5.95zM524.04 733.82l5.95 5.95l-5.95 5.95l-5.95 -5.95zM527.79 740.9l5.95 5.95l-5.95 5.95l-5.95 -5.95zM531.55 748.4l5.95 5.95l-5.95 5.95l-5.95 -5.95zM535.3 756.32l5.95 5.95l-5.95 5.95l-5.95 -5.95zM539.05 764.66l5.95 5.95l-5.95 5.95l-5.95 -5.95zM542.81 773.43l5.95 5.95l-5.95 5.95l-5.95 -5.95zM546.56 782.62l5.95 5.95l-5.95 5.95l-5.95 -5.95zM550.32 792.25l5.95 5.95l-5.95 5.95l-5.95 -5.95zM554.07 802.31l5.95 5.95l-5.95 5.95l-5.95 -5.95zM557.82 812.79l5.95 5.95l-5.95 5.95l-5.95 -5.95zM561.58 823.69l5.95 5.95l-5.95 5.95l-5.95 -5.95zM565.33 835.02l5.95 5.95l-5.95 5.95l-5.95 -5.95zM569.09 846.75l5.95 5.95l-5.95 5.95l-5.95 -5.95zM572.84 858.9l5.95 5.95l-5.95 5.95l-5.95 -5.95zM576.59 871.44l5.95 5.95l-5.95 5.95l-5.95 -5.95zM580.35 884.37l5.95 5.95l-5.95 5.95l-5.95 -5.95zM584.1 897.69l5.95 5.95l-5.95 5.95l-5.95 -5.95zM587.86 911.38l5.95 5.95l-5.95 5.95l-5.95 -5.95zM591.61 925.43l5.95 5.95l-5.95 5.95l-5.95 -5.95zM595.37 939.84l5.95 5.95l-5.95 5.95l-5.95 -5.95zM599.12 954.59l5.95 5.95l-5.95 5.95l-5.95 -5.95zM602.87 969.68l5.95 5.95l-5.95 5.95l-5.95 -5.95zM606.63 985.09l5.95 5.95l-5.95 5.95l-5.95 -5.95z"/>
<path fill="none" stroke="#000" stroke-width="2.05" stroke-linejoin="miter" d="M71.5 653.86h11.6v11.6h-11.6zM75.25 653.66h11.6v11.6h-11.6zM79.01 653.46h11.6v11.6h-11.6zM82.76 653.27h11.6v11.6h-11.6zM86.52 653.08h11.6v11.6h-11.6zM90.27 652.9h11.6v11.6h-11.6zM94.02 652.72h11.6v11.6h-11.6zM97.78 652.54h11.6v11.6h-11.6zM101.53 652.36h11.6v11.6h-11.6zM105.29 652.19h11.6v11.6h-11.6zM109.04 652.03h11.6v11.6h-11.6zM112.8 651.86h11.6v11.6h-11.6zM116.55 651.7h11.6v11.6h-11.6zM120.3 651.54h11.6v11.6h-11.6zM124.06 651.39h11.6v11.6h-11.6zM127.81 651.24h11.6v11.6h-11.6zM131.57 651.1h11.6v11.6h-11.6zM135.32 650.95h11.6v11.6h-11.6zM139.07 650.81h11.6v11.6h-11.6zM142.83 650.68h11.6v11.6h-11.6zM146.58 650.54h11.6v11.6h-11.6zM150.34 650.42h11.6v11.6h-11.6zM154.09 650.29h11.6v11.6h-11.6zM157.84 650.17h11.6v11.6h-11.6zM161.6 650.05h11.6v11.6h-11.6zM165.35 649.93h11.6v11.6h-11.6zM169.11 649.82h11.6v11.6h-11.6zM172.86 649.72h11.6v11.6h-11.6zM176.61 649.61h11.6v11.6h-11.6zM180.37 649.51h11.6v11.6h-11.6zM184.12 649.41h11.6v11.6h-11.6zM187.88 649.32h11.6v11.6h-11.6zM191.63 649.23h11.6v11.6h-11.6zM195.39 649.14h11.6v11.6h-11.6zM199.14 649.06h11.6v11.6h-11.6zM202.89 648.98h11.6v11.6h-11.6zM206.65 648.9h11.6v11.6h-11.6zM210.4 648.83h11.6v11.6h-11.6zM214.16 648.76h11.6v11.6h-11.6zM217.91 648.7h11.6v11.6h-11.6zM221.66 648.64h11.6v11.6h-11.6zM225.42 648.58h11.6v11.6h-11.6zM229.17 648.53h11.6v11.6h-11.6zM232.93 648.48h11.6v11.6h-11.6zM236.68 648.43h11.6v11.6h-11.6zM240.43 648.39h11.6v11.6h-11.6zM244.19 648.35h11.6v11.6h-11.6zM247.94 648.31h11.6v11.6h-11.6zM251.7 648.28h11.6v11.6h-11.6zM255.45 648.26h11.6v11.6h-11.6zM259.2 648.23h11.6v11.6h-11.6zM262.96 648.21h11.6v11.6h-11.6zM266.71 648.2h11.6v11.6h-11.6zM270.47 648.19h11.6v11.6h-11.6zM274.22 648.19h11.6v11.6h-11.6zM277.98 648.18h11.6v11.6h-11.6zM281.73 648.19h11.6v11.6h-11.6zM285.48 648.2h11.6v11.6h-11.6zM289.24 648.21h11.6v11.6h-11.6zM292.99 648.23h11.6v11.6h-11.6zM296.75 648.26h11.6v11.6h-11.6zM300.5 648.29h11.6v11.6h-11.6zM304.25 648.32h11.6v11.6h-11.6zM308.01 648.37h11.6v11.6h-11.6zM311.76 648.41h11.6v11.6h-11.6zM315.52 648.47h11.6v11.6h-11.6zM319.27 648.53h11.6v11.6h-11.6zM323.02 648.6h11.6v11.6h-11.6zM326.78 648.68h11.6v11.6h-11.6zM330.53 648.77h11.6v11.6h-11.6zM334.29 648.87h11.6v11.6h-11.6zM338.04 648.97h11.6v11.6h-11.6zM341.79 649.09h11.6v11.6h-11.6zM345.55 649.22h11.6v11.6h-11.6zM349.3 649.36h11.6v11.6h-11.6zM353.06 649.52h11.6v11.6h-11.6zM356.81 649.69h11.6v11.6h-11.6zM360.57 649.87h11.6v11.6h-11.6zM364.32 650.08h11.6v11.6h-11.6zM368.07 650.3h11.6v11.6h-11.6zM371.83 650.54h11.6v11.6h-11.6zM375.58 650.8h11.6v11.6h-11.6zM379.34 651.09h11.6v11.6h-11.6zM383.09 651.41h11.6v11.6h-11.6zM386.84 651.75h11.6v11.6h-11.6zM390.6 652.13h11.6v11.6h-11.6zM394.35 652.54h11.6v11.6h-11.6zM398.11 653h11.6v11.6h-11.6zM401.86 653.49h11.6v11.6h-11.6zM405.61 654.03h11.6v11.6h-11.6zM409.37 654.62h11.6v11.6h-11.6zM413.12 655.27h11.6v11.6h-11.6zM416.88 655.98h11.6v11.6h-11.6zM420.63 656.76h11.6v11.6h-11.6zM424.39 657.61h11.6v11.6h-11.6zM428.14 658.55h11.6v11.6h-11.6zM431.89 659.57h11.6v11.6h-11.6zM435.65 660.7h11.6v11.6h-11.6zM439.4 661.93h11.6v11.6h-11.6zM443.16 663.28h11.6v11.6h-11.6zM446.91 664.75h11.6v11.6h-11.6zM450.66 666.36h11.6v11.6h-11.6zM454.42 668.13h11.6v11.6h-11.6zM458.17 670.06h11.6v11.6h-11.6zM461.93 672.17h11.6v11.6h-11.6zM465.68 674.46h11.6v11.6h-11.6zM469.43 676.97h11.6v11.6h-11.6zM473.19 679.69h11.6v11.6h-11.6zM476.94 682.66h11.6v11.6h-11.6zM480.7 685.87h11.6v11.6h-11.6zM484.45 689.36h11.6v11.6h-11.6zM488.2 693.13h11.6v11.6h-11.6zM491.96 697.2h11.6v11.6h-11.6zM495.71 701.59h11.6v11.6h-11.6zM499.47 706.31h11.6v11.6h-11.6zM503.22 711.39h11.6v11.6h-11.6zM506.98 716.82h11.6v11.6h-11.6zM510.73 722.63h11.6v11.6h-11.6zM514.48 728.83h11.6v11.6h-11.6zM518.24 735.42h11.6v11.6h-11.6zM521.99 742.43h11.6v11.6h-11.6zM525.75 749.85h11.6v11.6h-11.6zM529.5 757.69h11.6v11.6h-11.6zM533.25 765.96h11.6v11.6h-11.6zM537.01 774.66h11.6v11.6h-11.6zM540.76 783.79h11.6v11.6h-11.6zM544.52 793.35h11.6v11.6h-11.6zM548.27 803.35h11.6v11.6h-11.6zM552.02 813.77h11.6v11.6h-11.6zM555.78 824.62h11.6v11.6h-11.6zM559.53 835.89h11.6v11.6h-11.6zM563.29 847.57h11.6v11.6h-11.6zM567.04 859.65h11.6v11.6h-11.6zM570.79 872.14h11.6v11.6h-11.6zM574.55 885.01h11.6v11.6h-11.6zM578.3 898.27h11.6v11.6h-11.6zM582.06 911.9h11.6v11.6h-11.6zM585.81 925.89h11.6v11.6h-11.6zM589.57 940.23h11.6v11.6h-11.6zM593.32 954.92h11.6v11.6h-11.6zM597.07 969.93h11.6v11.6h-11.6zM600.83 985.27h11.6v11.6h-11.6z"/>
<path fill="none" stroke="#000" stroke-width="2.05" stroke-linejoin="miter" d="M71.6 671.34a5.7 5.7 0 1 0 11.4 0a5.7 5.7 0 1 0 -11.4 0zM76.85 671.02a5.7 5.7 0 1 0 11.4 0a5.7 5.7 0 1 0 -11.4 0zM80.6 670.8a5.7 5.7 0 1 0 11.4 0a5.7 5.7 0 1 0 -11.4 0zM84.35 670.58a5.7 5.7 0 1 0 11.4 0a5.7 5.7 0 1 0 -11.4 0zM88.11 670.36a5.7 5.7 0 1 0 11.4 0a5.7 5.7 0 1 0 -11.4 0zM91.86 670.15a5.7 5.7 0 1 0 11.4 0a5.7 5.7 0 1 0 -11.4 0zM95.62 669.94a5.7 5.7 0 1 0 11.4 0a5.7 5.7 0 1 0 -11.4 0zM99.37 669.74a5.7 5.7 0 1 0 11.4 0a5.7 5.7 0 1 0 -11.4 0zM103.12 669.54a5.7 5.7 0 1 0 11.4 0a5.7 5.7 0 1 0 -11.4 0zM106.88 669.34a5.7 5.7 0 1 0 11.4 0a5.7 5.7 0 1 0 -11.4 0zM110.63 669.15a5.7 5.7 0 1 0 11.4 0a5.7 5.7 0 1 0 -11.4 0zM114.39 668.96a5.7 5.7 0 1 0 11.4 0a5.7 5.7 0 1 0 -11.4 0zM118.14 668.78a5.7 5.7 0 1 0 11.4 0a5.7 5.7 0 1 0 -11.4 0zM121.89 668.6a5.7 5.7 0 1 0 11.4 0a5.7 5.7 0 1 0 -11.4 0zM125.65 668.42a5.7 5.7 0 1 0 11.4 0a5.7 5.7 0 1 0 -11.4 0zM129.4 668.25a5.7 5.7 0 1 0 11.4 0a5.7 5.7 0 1 0 -11.4 0zM133.16 668.08a5.7 5.7 0 1 0 11.4 0a5.7 5.7 0 1 0 -11.4 0zM136.91 667.92a5.7 5.7 0 1 0 11.4 0a5.7 5.7 0 1 0 -11.4 0zM140.66 667.76a5.7 5.7 0 1 0 11.4 0a5.7 5.7 0 1 0 -11.4 0zM144.42 667.6a5.7 5.7 0 1 0 11.4 0a5.7 5.7 0 1 0 -11.4 0zM148.17 667.45a5.7 5.7 0 1 0 11.4 0a5.7 5.7 0 1 0 -11.4 0zM151.93 667.3a5.7 5.7 0 1 0 11.4 0a5.7 5.7 0 1 0 -11.4 0zM155.68 667.16a5.7 5.7 0 1 0 11.4 0a5.7 5.7 0 1 0 -11.4 0zM159.44 667.02a5.7 5.7 0 1 0 11.4 0a5.7 5.7 0 1 0 -11.4 0zM163.19 666.88a5.7 5.7 0 1 0 11.4 0a5.7 5.7 0 1 0 -11.4 0zM166.94 666.75a5.7 5.7 0 1 0 11.4 0a5.7 5.7 0 1 0 -11.4 0zM170.7 666.62a5.7 5.7 0 1 0 11.4 0a5.7 5.7 0 1 0 -11.4 0zM174.45 666.5a5.7 5.7 0 1 0 11.4 0a5.7 5.7 0 1 0 -11.4 0zM178.21 666.38a5.7 5.7 0 1 0 11.4 0a5.7 5.7 0 1 0 -11.4 0zM181.96 666.26a5.7 5.7 0 1 0 11.4 0a5.7 5.7 0 1 0 -11.4 0zM185.71 666.15a5.7 5.7 0 1 0 11.4 0a5.7 5.7 0 1 0 -11.4 0zM189.47 666.04a5.7 5.7 0 1 0 11.4 0a5.7 5.7 0 1 0 -11.4 0zM193.22 665.94a5.7 5.7 0 1 0 11.4 0a5.7 5.7 0 1 0 -11.4 0zM196.98 665.84a5.7 5.7 0 1 0 11.4 0a5.7 5.7 0 1 0 -11.4 0zM200.73 665.75a5.7 5.7 0 1 0 11.4 0a5.7 5.7 0 1 0 -11.4 0zM204.48 665.66a5.7 5.7 0 1 0 11.4 0a5.7 5.7 0 1 0 -11.4 0zM208.24 665.57a5.7 5.7 0 1 0 11.4 0a5.7 5.7 0 1 0 -11.4 0zM211.99 665.49a5.7 5.7 0 1 0 11.4 0a5.7 5.7 0 1 0 -11.4 0zM215.75 665.41a5.7 5.7 0 1 0 11.4 0a5.7 5.7 0 1 0 -11.4 0zM219.5 665.34a5.7 5.7 0 1 0 11.4 0a5.7 5.7 0 1 0 -11.4 0zM223.26 665.27a5.7 5.7 0 1 0 11.4 0a5.7 5.7 0 1 0 -11.4 0zM227.01 665.2a5.7 5.7 0 1 0 11.4 0a5.7 5.7 0 1 0 -11.4 0zM230.76 665.14a5.7 5.7 0 1 0 11.4 0a5.7 5.7 0 1 0 -11.4 0zM234.52 665.09a5.7 5.7 0 1 0 11.4 0a5.7 5.7 0 1 0 -11.4 0zM238.27 665.04a5.7 5.7 0 1 0 11.4 0a5.7 5.7 0 1 0 -11.4 0zM242.03 664.99a5.7 5.7 0 1 0 11.4 0a5.7 5.7 0 1 0 -11.4 0zM245.78 664.95a5.7 5.7 0 1 0 11.4 0a5.7 5.7 0 1 0 -11.4 0zM249.53 664.91a5.7 5.7 0 1 0 11.4 0a5.7 5.7 0 1 0 -11.4 0zM253.29 664.88a5.7 5.7 0 1 0 11.4 0a5.7 5.7 0 1 0 -11.4 0zM257.04 664.85a5.7 5.7 0 1 0 11.4 0a5.7 5.7 0 1 0 -11.4 0zM260.8 664.83a5.7 5.7 0 1 0 11.4 0a5.7 5.7 0 1 0 -11.4 0zM264.55 664.81a5.7 5.7 0 1 0 11.4 0a5.7 5.7 0 1 0 -11.4 0zM268.3 664.8a5.7 5.7 0 1 0 11.4 0a5.7 5.7 0 1 0 -11.4 0zM272.06 664.79a5.7 5.7 0 1 0 11.4 0a5.7 5.7 0 1 0 -11.4 0zM275.81 664.79a5.7 5.7 0 1 0 11.4 0a5.7 5.7 0 1 0 -11.4 0zM279.57 664.79a5.7 5.7 0 1 0 11.4 0a5.7 5.7 0 1 0 -11.4 0zM283.32 664.8a5.7 5.7 0 1 0 11.4 0a5.7 5.7 0 1 0 -11.4 0zM287.07 664.82a5.7 5.7 0 1 0 11.4 0a5.7 5.7 0 1 0 -11.4 0zM290.83 664.84a5.7 5.7 0 1 0 11.4 0a5.7 5.7 0 1 0 -11.4 0zM294.58 664.87a5.7 5.7 0 1 0 11.4 0a5.7 5.7 0 1 0 -11.4 0zM298.34 664.91a5.7 5.7 0 1 0 11.4 0a5.7 5.7 0 1 0 -11.4 0zM302.09 664.95a5.7 5.7 0 1 0 11.4 0a5.7 5.7 0 1 0 -11.4 0zM305.85 665.01a5.7 5.7 0 1 0 11.4 0a5.7 5.7 0 1 0 -11.4 0zM309.6 665.06a5.7 5.7 0 1 0 11.4 0a5.7 5.7 0 1 0 -11.4 0zM313.35 665.13a5.7 5.7 0 1 0 11.4 0a5.7 5.7 0 1 0 -11.4 0zM317.11 665.21a5.7 5.7 0 1 0 11.4 0a5.7 5.7 0 1 0 -11.4 0zM320.86 665.29a5.7 5.7 0 1 0 11.4 0a5.7 5.7 0 1 0 -11.4 0zM324.62 665.39a5.7 5.7 0 1 0 11.4 0a5.7 5.7 0 1 0 -11.4 0zM328.37 665.5a5.7 5.7 0 1 0 11.4 0a5.7 5.7 0 1 0 -11.4 0zM332.12 665.61a5.7 5.7 0 1 0 11.4 0a5.7 5.7 0 1 0 -11.4 0zM335.88 665.74a5.7 5.7 0 1 0 11.4 0a5.7 5.7 0 1 0 -11.4 0zM339.63 665.88a5.7 5.7 0 1 0 11.4 0a5.7 5.7 0 1 0 -11.4 0zM343.39 666.04a5.7 5.7 0 1 0 11.4 0a5.7 5.7 0 1 0 -11.4 0zM347.14 666.21a5.7 5.7 0 1 0 11.4 0a5.7 5.7 0 1 0 -11.4 0zM350.89 666.39a5.7 5.7 0 1 0 11.4 0a5.7 5.7 0 1 0 -11.4 0zM354.65 666.59a5.7 5.7 0 1 0 11.4 0a5.7 5.7 0 1 0 -11.4 0zM358.4 666.81a5.7 5.7 0 1 0 11.4 0a5.7 5.7 0 1 0 -11.4 0zM362.16 667.05a5.7 5.7 0 1 0 11.4 0a5.7 5.7 0 1 0 -11.4 0zM365.91 667.31a5.7 5.7 0 1 0 11.4 0a5.7 5.7 0 1 0 -11.4 0zM369.66 667.6a5.7 5.7 0 1 0 11.4 0a5.7 5.7 0 1 0 -11.4 0zM373.42 667.9a5.7 5.7 0 1 0 11.4 0a5.7 5.7 0 1 0 -11.4 0zM377.17 668.24a5.7 5.7 0 1 0 11.4 0a5.7 5.7 0 1 0 -11.4 0zM380.93 668.6a5.7 5.7 0 1 0 11.4 0a5.7 5.7 0 1 0 -11.4 0zM384.68 669a5.7 5.7 0 1 0 11.4 0a5.7 5.7 0 1 0 -11.4 0zM388.44 669.43a5.7 5.7 0 1 0 11.4 0a5.7 5.7 0 1 0 -11.4 0zM392.19 669.89a5.7 5.7 0 1 0 11.4 0a5.7 5.7 0 1 0 -11.4 0zM395.94 670.4a5.7 5.7 0 1 0 11.4 0a5.7 5.7 0 1 0 -11.4 0zM399.7 670.95a5.7 5.7 0 1 0 11.4 0a5.7 5.7 0 1 0 -11.4 0zM403.45 671.54a5.7 5.7 0 1 0 11.4 0a5.7 5.7 0 1 0 -11.4 0zM407.21 672.19a5.7 5.7 0 1 0 11.4 0a5.7 5.7 0 1 0 -11.4 0zM410.96 672.9a5.7 5.7 0 1 0 11.4 0a5.7 5.7 0 1 0 -11.4 0zM414.71 673.67a5.7 5.7 0 1 0 11.4 0a5.7 5.7 0 1 0 -11.4 0zM418.47 674.5a5.7 5.7 0 1 0 11.4 0a5.7 5.7 0 1 0 -11.4 0zM422.22 675.4a5.7 5.7 0 1 0 11.4 0a5.7 5.7 0 1 0 -11.4 0zM425.98 676.39a5.7 5.7 0 1 0 11.4 0a5.7 5.7 0 1 0 -11.4 0zM429.73 677.46a5.7 5.7 0 1 0 11.4 0a5.7 5.7 0 1 0 -11.4 0zM433.48 678.62a5.7 5.7 0 1 0 11.4 0a5.7 5.7 0 1 0 -11.4 0zM437.24 679.88a5.7 5.7 0 1 0 11.4 0a5.7 5.7 0 1 0 -11.4 0zM440.99 681.25a5.7 5.7 0 1 0 11.4 0a5.7 5.7 0 1 0 -11.4 0zM444.75 682.73a5.7 5.7 0 1 0 11.4 0a5.7 5.7 0 1 0 -11.4 0zM448.5 684.35a5.7 5.7 0 1 0 11.4 0a5.7 5.7 0 1 0 -11.4 0zM452.25 686.1a5.7 5.7 0 1 0 11.4 0a5.7 5.7 0 1 0 -11.4 0zM456.01 687.99a5.7 5.7 0 1 0 11.4 0a5.7 5.7 0 1 0 -11.4 0zM459.76 690.05a5.7 5.7 0 1 0 11.4 0a5.7 5.7 0 1 0 -11.4 0zM463.52 692.27a5.7 5.7 0 1 0 11.4 0a5.7 5.7 0 1 0 -11.4 0zM467.27 694.67a5.7 5.7 0 1 0 11.4 0a5.7 5.7 0 1 0 -11.4 0zM471.03 697.27a5.7 5.7 0 1 0 11.4 0a5.7 5.7 0 1 0 -11.4 0zM474.78 700.08a5.7 5.7 0 1 0 11.4 0a5.7 5.7 0 1 0 -11.4 0zM478.53 703.1a5.7 5.7 0 1 0 11.4 0a5.7 5.7 0 1 0 -11.4 0zM482.29 706.36a5.7 5.7 0 1 0 11.4 0a5.7 5.7 0 1 0 -11.4 0zM486.04 709.86a5.7 5.7 0 1 0 11.4 0a5.7 5.7 0 1 0 -11.4 0zM489.8 713.63a5.7 5.7 0 1 0 11.4 0a5.7 5.7 0 1 0 -11.4 0zM493.55 717.67a5.7 5.7 0 1 0 11.4 0a5.7 5.7 0 1 0 -11.4 0zM497.3 722a5.7 5.7 0 1 0 11.4 0a5.7 5.7 0 1 0 -11.4 0zM501.06 726.63a5.7 5.7 0 1 0 11.4 0a5.7 5.7 0 1 0 -11.4 0zM504.81 731.57a5.7 5.7 0 1 0 11.4 0a5.7 5.7 0 1 0 -11.4 0zM508.57 736.84a5.7 5.7 0 1 0 11.4 0a5.7 5.7 0 1 0 -11.4 0zM512.32 742.44a5.7 5.7 0 1 0 11.4 0a5.7 5.7 0 1 0 -11.4 0zM516.07 748.4a5.7 5.7 0 1 0 11.4 0a5.7 5.7 0 1 0 -11.4 0zM519.83 754.72a5.7 5.7 0 1 0 11.4 0a5.7 5.7 0 1 0 -11.4 0zM523.58 761.4a5.7 5.7 0 1 0 11.4 0a5.7 5.7 0 1 0 -11.4 0zM527.34 768.46a5.7 5.7 0 1 0 11.4 0a5.7 5.7 0 1 0 -11.4 0zM531.09 775.9a5.7 5.7 0 1 0 11.4 0a5.7 5.7 0 1 0 -11.4 0zM534.85 783.74a5.7 5.7 0 1 0 11.4 0a5.7 5.7 0 1 0 -11.4 0zM538.6 791.96a5.7 5.7 0 1 0 11.4 0a5.7 5.7 0 1 0 -11.4 0zM542.35 800.59a5.7 5.7 0 1 0 11.4 0a5.7 5.7 0 1 0 -11.4 0zM546.11 809.61a5.7 5.7 0 1 0 11.4 0a5.7 5.7 0 1 0 -11.4 0zM549.86 819.04a5.7 5.7 0 1 0 11.4 0a5.7 5.7 0 1 0 -11.4 0zM553.62 828.87a5.7 5.7 0 1 0 11.4 0a5.7 5.7 0 1 0 -11.4 0zM557.37 839.09a5.7 5.7 0 1 0 11.4 0a5.7 5.7 0 1 0 -11.4 0zM561.12 849.72a5.7 5.7 0 1 0 11.4 0a5.7 5.7 0 1 0 -11.4 0zM564.88 860.74a5.7 5.7 0 1 0 11.4 0a5.7 5.7 0 1 0 -11.4 0zM568.63 872.15a5.7 5.7 0 1 0 11.4 0a5.7 5.7 0 1 0 -11.4 0zM572.39 883.94a5.7 5.7 0 1 0 11.4 0a5.7 5.7 0 1 0 -11.4 0zM576.14 896.12a5.7 5.7 0 1 0 11.4 0a5.7 5.7 0 1 0 -11.4 0zM579.89 908.67a5.7 5.7 0 1 0 11.4 0a5.7 5.7 0 1 0 -11.4 0zM583.65 921.59a5.7 5.7 0 1 0 11.4 0a5.7 5.7 0 1 0 -11.4 0zM587.4 934.87a5.7 5.7 0 1 0 11.4 0a5.7 5.7 0 1 0 -11.4 0zM591.16 948.49a5.7 5.7 0 1 0 11.4 0a5.7 5.7 0 1 0 -11.4 0zM594.91 962.47a5.7 5.7 0 1 0 11.4 0a5.7 5.7 0 1 0 -11.4 0zM598.66 976.78a5.7 5.7 0 1 0 11.4 0a5.7 5.7 0 1 0 -11.4 0zM600.93 991.07a5.7 5.7 0 1 0 11.4 0a5.7 5.7 0 1 0 -11.4 0z"/>
<path d="M77.30 560.60 H673.80 V1004.20" fill="none" stroke="#000" stroke-width="1.9"/><path d="M77.30 559.65 V1004.20 H674.75" fill="none" stroke="#000" stroke-width="2.1" stroke-linejoin="miter"/><path d="M77.30 1004.20 v5.50 M151.86 1004.20 v5.50 M226.42 1004.20 v5.50 M300.98 1004.20 v5.50 M375.54 1004.20 v5.50 M450.10 1004.20 v5.50 M524.66 1004.20 v5.50 M599.22 1004.20 v5.50 M673.78 1004.20 v5.50 M77.30 1004.20 h-5.50 M77.30 954.94 h-5.50 M77.30 905.68 h-5.50 M77.30 856.42 h-5.50 M77.30 807.16 h-5.50 M77.30 757.90 h-5.50 M77.30 708.64 h-5.50 M77.30 659.38 h-5.50 M77.30 610.12 h-5.50 M77.30 560.86 h-5.50" stroke="#000" stroke-width="1.8" fill="none"/><g class="t" font-size="17.6" fill="#000" stroke="#000" stroke-width="0.25"><text x="77.30" y="1032.20" text-anchor="middle">0</text><text x="151.86" y="1032.20" text-anchor="middle">0.1</text><text x="226.42" y="1032.20" text-anchor="middle">0.2</text><text x="300.98" y="1032.20" text-anchor="middle">0.3</text><text x="375.54" y="1032.20" text-anchor="middle">0.4</text><text x="450.10" y="1032.20" text-anchor="middle">0.5</text><text x="524.66" y="1032.20" text-anchor="middle">0.6</text><text x="599.22" y="1032.20" text-anchor="middle">0.7</text><text x="673.78" y="1032.20" text-anchor="middle">0.8</text><text x="61.70" y="1010.21" text-anchor="end">0</text><text x="61.70" y="960.95" text-anchor="end">2</text><text x="61.70" y="911.69" text-anchor="end">4</text><text x="61.70" y="862.43" text-anchor="end">6</text><text x="61.70" y="813.17" text-anchor="end">8</text><text x="61.70" y="763.91" text-anchor="end">10</text><text x="61.70" y="714.65" text-anchor="end">12</text><text x="61.70" y="665.39" text-anchor="end">14</text><text x="61.70" y="616.13" text-anchor="end">16</text><text x="61.70" y="566.87" text-anchor="end">18</text></g>
<g class="t" fill="#000" stroke="#000" stroke-width="0.3">
<text x="376" y="39" font-size="19" font-weight="bold" text-anchor="middle">CELL A</text>
<text x="91.3" y="28.5" font-size="20.3" text-anchor="middle">(a)</text>
<text x="93" y="94" font-size="20" text-anchor="middle">(b)</text>
<text x="91.2" y="168.5" font-size="20.3" text-anchor="middle">(c)</text>
<text x="365.5" y="504" font-size="20.8" text-anchor="middle">Voltage (V)</text>
<text transform="translate(17.2 225) rotate(-90)" font-size="21" text-anchor="middle">Current density (mA cm<tspan font-size="12.5" dy="-6.3">-2</tspan><tspan dy="6.3">)</tspan></text>
<text x="370.8" y="588.4" font-size="19.2" font-weight="bold" text-anchor="middle">CELL C</text>
<text x="219" y="600" font-size="20" text-anchor="middle">(a)</text>
<text x="427" y="734" font-size="20" text-anchor="middle">(b)</text>
<text x="312" y="750" font-size="20" text-anchor="middle">(c)</text>
<text x="378" y="1060.5" font-size="20.6" text-anchor="middle">Voltage (V)</text>
<text transform="translate(32.9 782.6) rotate(-90)" font-size="20.6" text-anchor="middle">Current density (mA cm<tspan font-size="12.3" dy="-6.2">-2</tspan><tspan dy="6.2">)</tspan></text>
</g>
<g stroke="#000" stroke-width="2.3" fill="none" stroke-linecap="butt">
<path d="M224.4 605.8 L248.2 645.5 M248 630.4 L248.2 645.5 L234.9 638.5"/>
<path d="M301 725 L263.6 670.1 M264.1 685.3 L263.6 670.1 L277 675.9"/>
<path d="M389 674.7 L414.7 712.1"/>
</g>
</svg>
</body></html>
